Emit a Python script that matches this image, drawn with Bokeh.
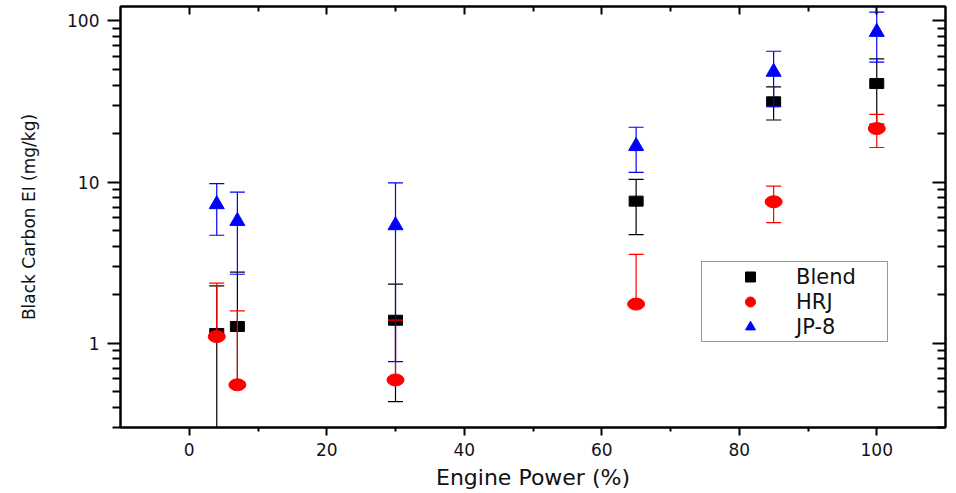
from bokeh.plotting import figure
from bokeh.models import (Range1d, FixedTicker, LinearAxis, LogAxis, Legend, LegendItem,
                          NumeralTickFormatter, CustomJSTickFormatter, ColumnDataSource)
from bokeh.embed import file_html
from bokeh.resources import INLINE

# ---- data ----
power = [4, 7, 30, 65, 85, 100]

blend = [1.15, 1.27, 1.39, 7.62, 31.5, 40.9]
blend_upper = [2.27, 2.76, 2.33, 10.4, 39.0, 58.2]
blend_lower = [0.01, 0.55, 0.434, 4.72, 24.3, 22.9]

hrj = [1.10, 0.552, 0.592, 1.75, 7.55, 21.5]
hrj_upper = [2.36, 1.59, 1.39, 3.56, 9.44, 26.3]
hrj_lower = [1.10, 0.552, 0.592, 1.75, 5.6, 16.4]

jp8 = [7.28, 5.73, 5.39, 16.7, 48.3, 85.4]
jp8_upper = [9.8, 8.67, 9.9, 21.9, 64.9, 113.6]
jp8_lower = [4.68, 2.68, 0.769, 11.5, 29.6, 55.5]

series_names = ["Blend", "HRJ", "JP-8"]
x_major = [0, 20, 40, 60, 80, 100]
x_minor = [10, 30, 50, 70, 90]
y_major = [1, 10, 100]
y_minor = [0.3, 0.4, 0.5, 0.6, 0.7, 0.8, 0.9,
           2, 3, 4, 5, 6, 7, 8, 9,
           20, 30, 40, 50, 60, 70, 80, 90]

FONT = "DejaVu Sans"

p = figure(width=956, height=493, output_backend="svg", toolbar_location=None,
           x_range=Range1d(-10, 110), y_range=Range1d(0.3, 123), y_axis_type="log",
           min_border_left=120, min_border_right=11, min_border_top=6, min_border_bottom=66)
p.xgrid.visible = False
p.ygrid.visible = False
p.outline_line_color = "black"
p.outline_line_width = 2
p.background_fill_color = "white"
p.border_fill_color = "white"

xt = FixedTicker(ticks=x_major, minor_ticks=x_minor)
yt = FixedTicker(ticks=y_major, minor_ticks=y_minor)

xa = p.xaxis[0]
xa.ticker = xt
xa.axis_line_width = 2
xa.major_tick_in = 0
xa.major_tick_out = 8
xa.minor_tick_in = 0
xa.minor_tick_out = 4
xa.major_tick_line_width = 2
xa.minor_tick_line_width = 2
xa.major_label_text_font = FONT
xa.major_label_text_font_size = "17px"
xa.major_label_text_color = "#111122"
xa.major_label_standoff = 7
xa.axis_label = "Engine Power (%)"
xa.axis_label_text_font = FONT
xa.axis_label_text_font_size = "22px"
xa.axis_label_text_font_style = "normal"
xa.axis_label_text_color = "#111111"
xa.axis_label_standoff = 6

ya = p.yaxis[0]
ya.ticker = yt
ya.formatter = NumeralTickFormatter(format="0")
ya.axis_line_width = 2
ya.major_tick_in = 0
ya.major_tick_out = 13
ya.minor_tick_in = 0
ya.minor_tick_out = 8
ya.major_tick_line_width = 2
ya.minor_tick_line_width = 2
ya.major_label_text_font = FONT
ya.major_label_text_font_size = "17px"
ya.major_label_text_color = "#111122"
ya.major_label_standoff = 8
ya.axis_label = "Black Carbon EI (mg/kg)"
ya.axis_label_text_font = FONT
ya.axis_label_text_font_size = "17px"
ya.axis_label_text_font_style = "normal"
ya.axis_label_text_color = "#111111"
ya.axis_label_standoff = 25

empty = CustomJSTickFormatter(code="return ''")
top = LinearAxis(ticker=xt, formatter=empty, axis_line_width=2,
                 major_tick_in=8, major_tick_out=0, minor_tick_in=5, minor_tick_out=0,
                 major_tick_line_width=2, minor_tick_line_width=2,
                 major_label_standoff=0, major_label_text_font_size="0px")
p.add_layout(top, "above")
right = LogAxis(ticker=yt, formatter=empty, axis_line_width=2,
                major_tick_in=13, major_tick_out=0, minor_tick_in=8, minor_tick_out=0,
                major_tick_line_width=2, minor_tick_line_width=2,
                major_label_standoff=0, major_label_text_font_size="0px")
p.add_layout(right, "right")


def errorbars(vals, lo, hi, color):
    src = ColumnDataSource(dict(x=power, y=vals, lo=lo, hi=hi))
    p.segment(x0="x", y0="lo", x1="x", y1="hi", source=src, line_color=color, line_width=1.2)
    p.scatter(x="x", y="hi", source=src, marker="dash", size=15, line_color=color, line_width=1.2)
    p.scatter(x="x", y="lo", source=src, marker="dash", size=15, line_color=color, line_width=1.2)
    return src


# Blend
s_b = errorbars(blend, blend_lower, blend_upper, "black")
leg_b = p.scatter(x="x", y="y", source=s_b, marker="square", size=6, color="black")
p.rect(x="x", y="y", width=14, height=10, width_units="screen", height_units="screen",
       source=s_b, color="black")

# HRJ
s_h = errorbars(hrj, hrj_lower, hrj_upper, "red")
leg_h = p.scatter(x="x", y="y", source=s_h, marker="circle", size=6, color="red")
p.ellipse(x="x", y="y", width=17, height=12, width_units="screen", height_units="screen",
          source=s_h, color="red")

# JP-8
s_j = errorbars(jp8, jp8_lower, jp8_upper, "blue")
leg_j = p.scatter(x="x", y="y", source=s_j, marker="triangle", size=15, color="blue")

legend = Legend(items=[LegendItem(label=series_names[0], renderers=[leg_b]),
                       LegendItem(label=series_names[1], renderers=[leg_h]),
                       LegendItem(label=series_names[2], renderers=[leg_j])],
                location=(581, 85), glyph_width=92, glyph_height=25, spacing=0,
                padding=2, margin=0, label_standoff=0, label_width=89, label_height=25,
                label_text_font=FONT, label_text_font_size="21px", label_text_color="#111111",
                border_line_color="#333333", border_line_width=1.5,
                background_fill_color="white", background_fill_alpha=1)
p.add_layout(legend)

open("out.html", "w").write(file_html(p, INLINE))
